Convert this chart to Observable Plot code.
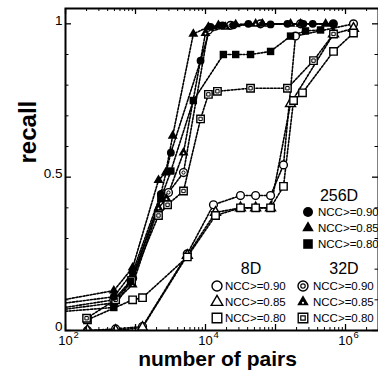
<!DOCTYPE html>
<html><head><meta charset="utf-8">
<script src="https://cdn.jsdelivr.net/npm/d3@7"></script>
<script src="https://cdn.jsdelivr.net/npm/@observablehq/plot@0.6"></script>
<style>
body{margin:0;background:#fff;}
#wrap{position:relative;width:378px;height:374px;overflow:hidden;font-family:"Liberation Sans",Arial,Helvetica,sans-serif;}
</style></head><body><div id="wrap"></div>
<script>
// ---- data ----
const x256_90 = [70, 490, 910, 2300, 3200, 8500, 11800, 17500, 25000, 41000, 85000, 148000, 250000, 340000, 670000];
const y256_90 = [0.085, 0.11, 0.19, 0.445, 0.58, 0.88, 0.99, 0.995, 0.995, 1.0, 0.998, 1.0, 1.0, 1.0, 1.0];
const x256_85 = [70, 490, 910, 2130, 2700, 3400, 6700, 11000, 15300, 27000, 65000, 228000, 520000];
const y256_85 = [0.095, 0.13, 0.205, 0.49, 0.515, 0.635, 0.967, 0.99, 0.995, 0.998, 1.0, 1.0, 1.0];
const x256_80 = [70, 490, 850, 2300, 3200, 6700, 18000, 27000, 44000, 85000, 164000, 268000, 440000];
const y256_80 = [0.06, 0.075, 0.16, 0.43, 0.52, 0.75, 0.90, 0.90, 0.90, 0.91, 0.96, 0.977, 0.98];
const x32_90 = [70, 490, 910, 2430, 2960, 4850, 11000, 22800, 61000, 228000, 670000];
const y32_90 = [0.07, 0.10, 0.17, 0.445, 0.45, 0.515, 0.98, 0.995, 1.0, 1.0, 1.0];
const x32_85 = [70, 490, 910, 2130, 2770, 4850, 10000, 19300, 52000, 164000];
const y32_85 = [0.065, 0.09, 0.15, 0.40, 0.43, 0.58, 0.97, 0.99, 1.0, 1.0];
const x32_80 = [200, 520, 880, 2130, 2870, 4850, 8500, 11000, 14800, 44000, 148000, 349000, 674000];
const y32_80 = [0.04, 0.10, 0.163, 0.375, 0.41, 0.455, 0.69, 0.77, 0.78, 0.79, 0.79, 0.88, 0.967];
const x8_90 = [206, 520, 1260, 5500, 13000, 31600, 52000, 85000, 130000, 193000, 1300000];
const y8_90 = [0, 0.005, 0.013, 0.25, 0.41, 0.44, 0.44, 0.44, 0.54, 0.96, 1.0];
const x8_85 = [206, 520, 1260, 5500, 13900, 31600, 52000, 85000, 164000, 674000, 1300000];
const y8_85 = [0, 0, 0.01, 0.245, 0.385, 0.40, 0.40, 0.40, 0.74, 0.967, 0.985];
const x8_80 = [206, 910, 1260, 5500, 13900, 31600, 52000, 85000, 130000, 181000, 243000, 674000, 1300000];
const y8_80 = [0.035, 0.10, 0.107, 0.24, 0.375, 0.40, 0.40, 0.40, 0.47, 0.75, 0.775, 0.91, 0.97];

const dims = ["8D", "32D", "256D"];
const thresholds = ["NCC>=0.90", "NCC>=0.85", "NCC>=0.80"];
const xTickExps = [2, 4, 6];
const yTickVals = [0, 0.5, 1];
const yTickText = ["0", "0.5", "1"];
const xTitle = "number of pairs";
const yTitle = "recall";

const series = [
  {id: "8D_90", dim: "8D", x: x8_90, y: y8_90, shape: "circle", kind: "open"},
  {id: "8D_85", dim: "8D", x: x8_85, y: y8_85, shape: "triangle", kind: "open"},
  {id: "8D_80", dim: "8D", x: x8_80, y: y8_80, shape: "square", kind: "open"},
  {id: "32D_90", dim: "32D", x: x32_90, y: y32_90, shape: "circle", kind: "ring"},
  {id: "32D_85", dim: "32D", x: x32_85, y: y32_85, shape: "triangle", kind: "ring"},
  {id: "32D_80", dim: "32D", x: x32_80, y: y32_80, shape: "square", kind: "ring"},
  {id: "256D_90", dim: "256D", x: x256_90, y: y256_90, shape: "circle", kind: "filled"},
  {id: "256D_85", dim: "256D", x: x256_85, y: y256_85, shape: "triangle", kind: "filled"},
  {id: "256D_80", dim: "256D", x: x256_80, y: y256_80, shape: "square", kind: "filled"}
];
const rows = series.flatMap(s => s.x.map((x, i) => ({id: s.id, x, y: s.y[i]})));

// ---- layout ----
const W = 378, H = 374, mL = 65, mR = 0, mT = 8, mB = 44;
const fw = W - mL - mR, fh = H - mT - mB;
const sizeR = {circle: 3.9, triangle: 3.7, square: 4.2};

function dotMarks(s) {
  const data = rows.filter(d => d.id === s.id);
  const base = {x: "x", y: "y", symbol: s.shape, r: sizeR[s.shape], clip: true};
  if (s.kind === "filled") return [Plot.dot(data, {...base, fill: "black", stroke: "none"})];
  if (s.kind === "open") return [Plot.dot(data, {...base, fill: "white", stroke: "black", strokeWidth: 1.4})];
  if (s.shape === "triangle") return [
    Plot.dot(data, {...base, fill: "black", stroke: "none"}),
    Plot.dot(data, {x: "x", y: "y", r: 0.9, fill: "white", dy: 0.5, clip: true})
  ];
  return [
    Plot.dot(data, {...base, fill: "white", stroke: "black", strokeWidth: 1.4}),
    Plot.dot(data, {x: "x", y: "y", symbol: s.shape, r: s.shape === "square" ? 1.9 : 1.6, fill: "none", stroke: "black", strokeWidth: 1, clip: true})
  ];
}

const xMajor = d3.range(2, 7).map(e => 10 ** e);
const xMinor = d3.range(2, 7).flatMap(e => d3.range(2, 10).map(k => k * 10 ** e)).filter(v => v < 2.96e6);
const yMinor = d3.range(1, 10).map(k => k / 10).filter(v => v !== 0.5);
const yMajor = [0, 0.5, 1];

const plot = Plot.plot({
  width: W, height: H,
  marginLeft: mL, marginRight: mR, marginTop: mT, marginBottom: mB,
  x: {type: "log", domain: [100, 2.96e6], axis: null},
  y: {domain: [0, 1.05], axis: null},
  style: {fontFamily: "'Liberation Sans', Arial, Helvetica, sans-serif", background: "white", color: "black", overflow: "visible"},
  marks: [
    Plot.line(rows, {x: "x", y: "y", z: "id", stroke: "black", strokeWidth: 1.6, strokeDasharray: "2,1.6", clip: true}),
    ...series.flatMap(dotMarks),
    // inward ticks
    Plot.tickX(xMajor, {x: d => d, insetTop: fh - 6, stroke: "black", strokeWidth: 1.3}),
    Plot.tickX(xMinor, {x: d => d, insetTop: fh - 3, stroke: "black", strokeWidth: 1}),
    Plot.tickX(xMajor, {x: d => d, insetBottom: fh - 6, stroke: "black", strokeWidth: 1.3}),
    Plot.tickX(xMinor, {x: d => d, insetBottom: fh - 3, stroke: "black", strokeWidth: 1}),
    Plot.tickY(yMajor, {y: d => d, insetRight: fw - 6, stroke: "black", strokeWidth: 1.3}),
    Plot.tickY(yMinor, {y: d => d, insetRight: fw - 3.5, stroke: "black", strokeWidth: 1}),
    Plot.tickY(yMajor, {y: d => d, insetLeft: fw - 6, stroke: "black", strokeWidth: 1.3}),
    Plot.tickY(yMinor, {y: d => d, insetLeft: fw - 3.5, stroke: "black", strokeWidth: 1}),
    Plot.frame({stroke: "black", strokeWidth: 2}),
    // tick labels
    Plot.text(xTickExps, {x: d => 10 ** d, text: () => "10", frameAnchor: "bottom", dy: 14, fontSize: 13}),
    Plot.text(xTickExps, {x: d => 10 ** d, text: d => String(d), frameAnchor: "bottom", dx: 8, dy: 7, textAnchor: "start", fontSize: 9.5}),
    Plot.text(yTickVals, {y: d => d, text: (d, i) => yTickText[i], frameAnchor: "left", dx: -3, dy: -3.5, textAnchor: "end", fontSize: 13.5}),
    // axis titles
    Plot.text([yTitle], {text: d => d, frameAnchor: "left", rotate: -90, dx: -37, dy: -6, fontSize: 24, fontWeight: "bold"}),
    Plot.text([xTitle], {text: d => d, frameAnchor: "bottom", dx: -4.5, dy: 35.5, fontSize: 21, fontWeight: "bold"})
  ]
});
const wrap = document.getElementById("wrap");
wrap.appendChild(plot);

// ---- legend overlay ----
const lg = d3.select(wrap).append("svg")
  .attr("width", W).attr("height", H)
  .style("position", "absolute").style("left", "0px").style("top", "0px")
  .style("font-family", "'Liberation Sans', Arial, Helvetica, sans-serif");
const legendR = {circle: 5, triangle: 4.3, square: 5.4};
const symType = {circle: d3.symbolCircle, triangle: d3.symbolTriangle, square: d3.symbolSquare};
function legendSym(cx, cy, shape, kind) {
  const g = lg.append("g").attr("transform", `translate(${cx},${cy})`);
  const p = d3.symbol(symType[shape], Math.PI * legendR[shape] ** 2)();
  if (kind === "filled" || (kind === "ring" && shape === "triangle")) {
    g.append("path").attr("d", p).attr("fill", "black");
    if (kind === "ring") g.append("circle").attr("r", 1.1).attr("cy", 0.8).attr("fill", "white");
  } else {
    g.append("path").attr("d", p).attr("fill", "white").attr("stroke", "black").attr("stroke-width", 1.4);
    if (kind === "ring") {
      const inner = d3.symbol(symType[shape], Math.PI * (shape === "square" ? 2.5 : 2.2) ** 2)();
      g.append("path").attr("d", inner).attr("fill", "none").attr("stroke", "black").attr("stroke-width", 1.2);
    }
  }
}
const groups = [
  {dim: "256D", kind: "filled", tx: 339, ty: 195, mx: 308, lx: 318, rowY: [212, 228, 244]},
  {dim: "8D", kind: "open", tx: 251, ty: 268, mx: 217, lx: 225, rowY: [286, 302, 318]},
  {dim: "32D", kind: "ring", tx: 344, ty: 268, mx: 303, lx: 313, rowY: [286, 302, 318]}
];
const shapesOrder = ["circle", "triangle", "square"];
for (const gr of groups) {
  lg.append("text").attr("x", gr.tx).attr("y", gr.ty).attr("dy", "0.35em")
    .attr("text-anchor", "middle").attr("font-size", 16).text(gr.dim);
  thresholds.forEach((t, i) => {
    legendSym(gr.mx, gr.rowY[i], shapesOrder[i], gr.kind);
    lg.append("text").attr("x", gr.lx).attr("y", gr.rowY[i]).attr("dy", "0.35em")
      .attr("font-size", 11.5).text(t);
  });
}
</script></body></html>
